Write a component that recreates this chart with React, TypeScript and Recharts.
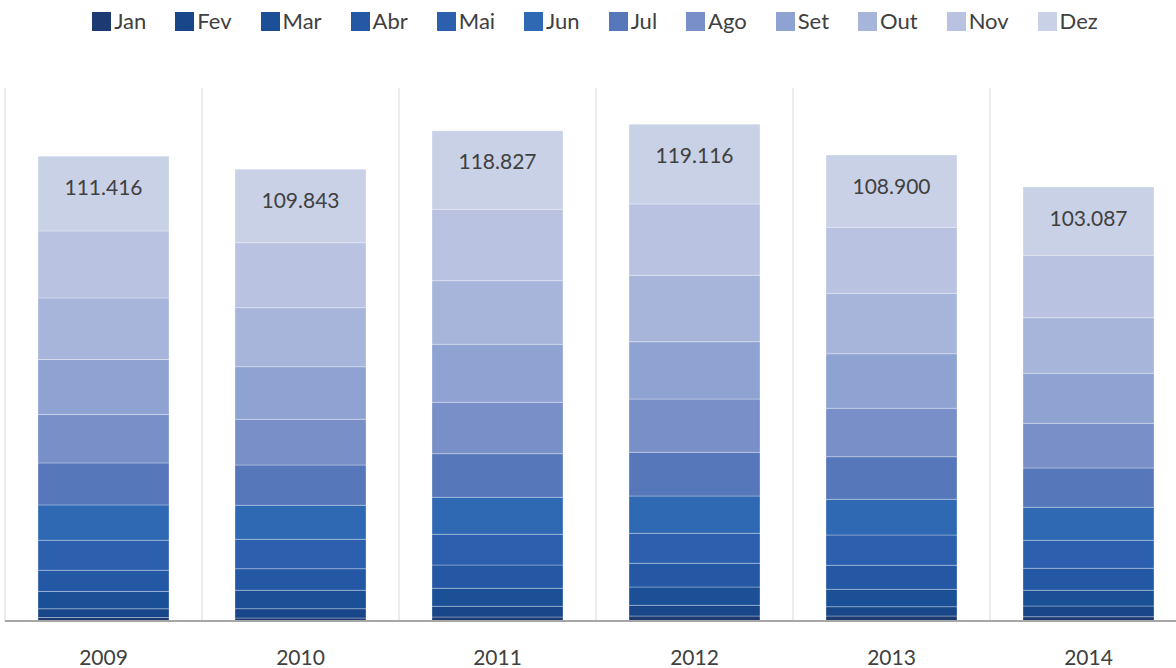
import React from "react";
import { BarChart, Bar, XAxis, YAxis, CartesianGrid, LabelList } from "recharts";

const years = ["2009", "2010", "2011", "2012", "2013", "2014"];
const months = ["Jan", "Fev", "Mar", "Abr", "Mai", "Jun", "Jul", "Ago", "Set", "Out", "Nov", "Dez"];
const monthColors = [
  "#1d3b72", "#184689", "#1b5097", "#2458a5", "#2c5fad", "#2f69b3",
  "#5677b9", "#798fc7", "#8fa3d2", "#a7b5da", "#b9c3e1", "#c9d1e7",
];

// monthly values per year (2009..2014)
const jan = [840, 720, 960, 1200, 1200, 1030];
const fev = [2090, 2230, 2570, 2570, 2230, 2570];
const mar = [4150, 4420, 4320, 4390, 4180, 3770];
const abr = [5110, 5180, 5590, 5690, 5760, 5280];
const mai = [7200, 7060, 7370, 7200, 7270, 6720];
const jun = [8470, 8160, 8880, 8950, 8570, 7920];
const jul = [10080, 9670, 10460, 10490, 10220, 9430];
const ago = [11620, 10970, 12340, 12790, 11620, 10730];
const set = [13200, 12620, 13920, 13750, 13100, 12000];
const out = [14780, 14160, 15260, 15940, 14500, 13340];
const nov = [16080, 15600, 17140, 17110, 15840, 14980];
const dez = [17930, 17620, 18860, 19130, 17350, 16390];

const totals = [111416, 109843, 118827, 119116, 108900, 103087];

const series = [jan, fev, mar, abr, mai, jun, jul, ago, set, out, nov, dez];

const data = years.map((year, i) => {
  const row: Record<string, string | number> = { year };
  months.forEach((m, j) => {
    row[m] = series[j][i];
  });
  return row;
});

const FONT = "Lato, 'Open Sans', sans-serif";
const TEXT = "#404040";

const fmt = (n: number) => n.toString().replace(/\B(?=(\d{3})+(?!\d))/g, ".");

const TotalLabel = (props: any) => {
  const { x, y, width, index } = props;
  return (
    <text
      x={x + width / 2}
      y={y + 30}
      textAnchor="middle"
      dominantBaseline="central"
      fill={TEXT}
      fontSize={21}
      fontFamily={FONT}
    >
      {fmt(totals[index])}
    </text>
  );
};

export default function App() {
  return (
    <div style={{ position: "absolute", left: 0, top: 0, width: 1176, height: 668, overflow: "hidden", background: "#fff" }}>
      <div
        style={{
          position: "absolute", top: 11, left: 0, width: 1190,
          display: "flex", justifyContent: "center", gap: 29,
          fontFamily: FONT, fontSize: 22, color: TEXT, lineHeight: "20px",
        }}
      >
        {months.map((m, i) => (
          <div key={m} style={{ display: "flex", alignItems: "center" }}>
            <span style={{ width: 19, height: 19, background: monthColors[i], display: "inline-block", marginRight: 3 }} />
            <span>{m}</span>
          </div>
        ))}
      </div>
      <BarChart width={1200} height={668} data={data} margin={{ top: 88, right: 13, left: 5, bottom: 7 }}>
        <CartesianGrid
          horizontal={false}
          stroke="#d9d9d9"
          verticalCoordinatesGenerator={({ offset }: any) =>
            years.map((_, i) => offset.left + (i * offset.width) / years.length).concat(offset.left + offset.width)
          }
        />
        <XAxis
          dataKey="year"
          height={40}
          tickLine={false}
          tickMargin={23}
          axisLine={{ stroke: "#a6a6a6", strokeWidth: 2 }}
          tick={{ fontSize: 21, fill: TEXT, fontFamily: FONT }}
        />
        <YAxis hide domain={[0, 127920]} />
        {months.map((m, i) => (
          <Bar
            key={m}
            dataKey={m}
            stackId="a"
            fill={monthColors[i]}
            stroke="#ffffff"
            strokeOpacity={0.3}
            strokeWidth={1}
            barSize={131}
            isAnimationActive={false}
          >
            {m === "Dez" && <LabelList dataKey={m} content={<TotalLabel />} />}
          </Bar>
        ))}
      </BarChart>
    </div>
  );
}
